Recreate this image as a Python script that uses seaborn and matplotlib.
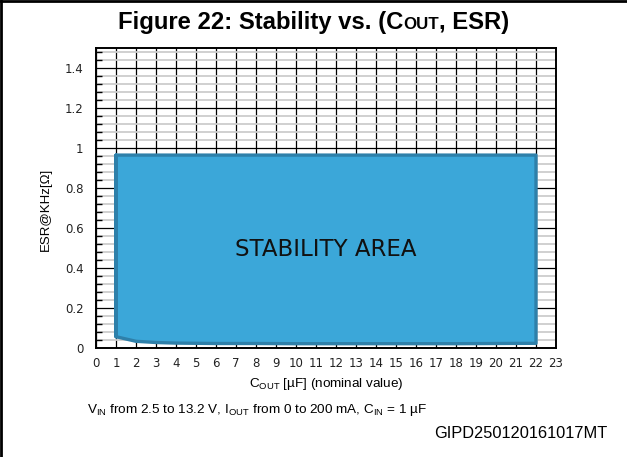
import numpy as np
import matplotlib
matplotlib.use("Agg")
import matplotlib.pyplot as plt
from matplotlib.lines import Line2D
from matplotlib.ticker import MultipleLocator, FuncFormatter
import seaborn as sns

# stability area boundary
cout_bottom = [1, 2, 3, 4, 5, 6, 8, 10, 12, 14, 16, 18, 20, 22]
esr_bottom = [0.055, 0.032, 0.026, 0.023, 0.022, 0.021, 0.021, 0.02, 0.02, 0.02, 0.02, 0.02, 0.021, 0.022]
esr_top = 0.963
cout_min, cout_max = 1, 22

x_ticks = list(range(0, 24))
y_ticks = [0, 0.2, 0.4, 0.6, 0.8, 1.0, 1.2, 1.4]

fill_col = "#3BA7D9"
edge_col = "#2E80AA"

sns.set_theme(style="white")
plt.rcParams["font.family"] = ["DejaVu Sans"]
plt.rcParams["text.color"] = "black"
plt.rcParams["axes.labelcolor"] = "black"
plt.rcParams["mathtext.fontset"] = "custom"
plt.rcParams["mathtext.rm"] = "Liberation Sans"
plt.rcParams["mathtext.it"] = "Liberation Sans"

W, H = 627, 457
fig = plt.figure(figsize=(W / 100, H / 100), dpi=100)
ax = fig.add_axes([96 / W, 1 - 347.7 / H, 460 / W, 300 / H])

# polygon of the stability area
poly_x = [cout_min] + cout_bottom + [cout_max, cout_min, cout_min]
poly_y = [esr_top] + esr_bottom + [esr_top, esr_top, esr_bottom[0]]
ax.fill(poly_x, poly_y, color=fill_col, zorder=3, lw=0)
sns.lineplot(x=poly_x, y=poly_y, sort=False, estimator=None, color=edge_col,
             lw=2.4, ax=ax, zorder=4)

ax.set_xlim(0, 23)
ax.set_ylim(0, 1.5)
ax.set_xticks(x_ticks)
ax.set_yticks(y_ticks)
ax.yaxis.set_minor_locator(MultipleLocator(0.04))
ax.yaxis.set_major_formatter(FuncFormatter(lambda v, p: f"{v:g}"))
ax.grid(which="major", color="black", lw=0.9)
ax.grid(which="minor", axis="y", color="#cdcdcd", lw=1.3)
ax.set_axisbelow(True)
ax.tick_params(which="major", length=0, labelsize=8.5, colors="#222222")
ax.tick_params(axis="x", which="major", pad=7)
ax.tick_params(axis="y", which="major", pad=9)
ax.tick_params(which="minor", axis="y", direction="in", length=4, width=1,
               color="black", left=True)
for s in ax.spines.values():
    s.set_color("black")
    s.set_linewidth(1.4)
    s.set_zorder(6)

ax.text(11.5, 0.49, "STABILITY AREA", ha="center", va="center", fontsize=16.5,
        color="#111111", zorder=5)

ax.set_xlabel(r"C$_\mathrm{OUT}$ [µF] (nominal value)", family="Liberation Sans",
              fontsize=9.7, labelpad=4)
ax.set_ylabel("ESR@KHz[Ω]", family="Liberation Sans", fontsize=9.5)
ax.yaxis.set_label_coords(-0.095, 0.46)

# title with small caps piece
fig.canvas.draw()
r = fig.canvas.get_renderer()
ty = 1 - 29 / H
parts = [("Figure 22: Stability vs. (C", 17.2), ("OUT", 12.2), (", ESR)", 17.2)]
texts = []
for s, fs in parts:
    texts.append(fig.text(0, ty, s, fontsize=fs, fontweight="bold", color="black",
                          family="Liberation Sans", va="baseline", ha="left"))
widths = [t.get_window_extent(r).width for t in texts]
x0 = 314 - sum(widths) / 2
for t, w in zip(texts, widths):
    t.set_x(x0 / W)
    x0 += w

fig.text(87 / W, 1 - 410 / H,
         r"V$_\mathrm{IN}$ from 2.5 to 13.2 V, I$_\mathrm{OUT}$ from 0 to 200 mA, C$_\mathrm{IN}$ = 1 µF",
         family="Liberation Sans", fontsize=9.7, va="center", ha="left")
fig.text(607 / W, 1 - 433 / H, "GIPD250120161017MT", family="Liberation Sans",
         fontsize=11.8, va="center", ha="right")

# frame lines on top and left
fig.add_artist(Line2D([0, 1], [1 - 1 / H, 1 - 1 / H], color="black", lw=2,
                      transform=fig.transFigure))
fig.add_artist(Line2D([1 / W, 1 / W], [0, 1], color="black", lw=2,
                      transform=fig.transFigure))

fig.savefig("out.png", dpi=100)
